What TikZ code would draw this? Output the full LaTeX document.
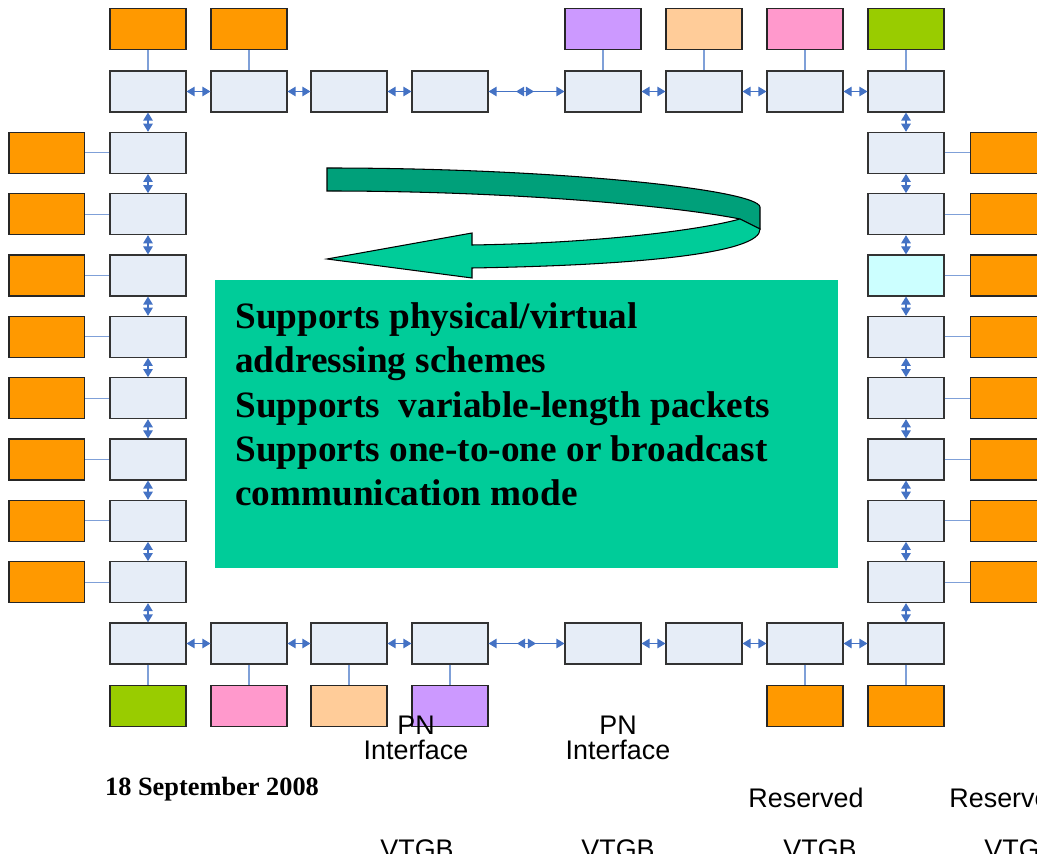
\documentclass[tikz,border=0pt]{standalone}
\usepackage{fontspec}
\setmainfont{Liberation Serif}
\setsansfont{Liberation Sans}
\usetikzlibrary{arrows.meta,positioning}

\definecolor{chipfill}{RGB}{230,237,247}
\definecolor{linkblue}{RGB}{68,114,196}
\definecolor{tapblue}{RGB}{127,160,216}
\definecolor{portorange}{RGB}{255,153,0}
\definecolor{portpurple}{RGB}{204,153,255}
\definecolor{portpeach}{RGB}{255,204,153}
\definecolor{portpink}{RGB}{255,153,204}
\definecolor{portlime}{RGB}{153,204,0}
\definecolor{portcyan}{RGB}{204,255,255}
\definecolor{bannergreen}{RGB}{0,204,153}
\definecolor{ribbondark}{RGB}{0,160,122}

\begin{document}
\begin{tikzpicture}[x=0.02cm, y=-0.02cm]
	\tikzstyle{chip} = [rectangle, draw=black!80, fill=chipfill, line width=0.6pt, minimum width=1.52cm, minimum height=0.82cm, inner sep=0pt]
	\tikzstyle{port} = [chip, draw=black!85, fill=portorange]
	\tikzstyle{link} = [{Triangle[length=4.6pt,width=5.4pt]}-{Triangle[length=4.6pt,width=5.4pt]}, draw=linkblue, fill=linkblue, line width=0.7pt]
	\tikzstyle{tap} = [draw=tapblue, line width=0.7pt]
	\tikzstyle{note} = [font=\sffamily\fontsize{15.3}{14.2}\selectfont, inner sep=0pt, align=center]

	\useasboundingbox (0,0) rectangle (1037,854);
	\clip (0,0) rectangle (1037,854);

	% top and bottom rows
	\foreach \name / \x in {1/148, 2/249, 3/349, 4/450, 5/603, 6/704, 7/805, 8/906} {
		\node[chip] (top-\name) at (\x, 91.5) {};
		\node[chip] (bottom-\name) at (\x, 643.5) {};
	}

	% side columns
	\foreach \name / \col in {1/chipfill, 2/chipfill, 3/portcyan, 4/chipfill, 5/chipfill, 6/chipfill, 7/chipfill, 8/chipfill} {
		\node[chip] (left-\name) at (148, {91.5+61.33*\name}) {};
		\node[chip, fill=\col] (right-\name) at (906, {91.5+61.33*\name}) {};
		\node[port, left=0.48cm of left-\name] (left-port-\name) {};
		\node[port, right=0.5cm of right-\name] (right-port-\name) {};
		\draw[tap] (left-port-\name) -- (left-\name);
		\draw[tap] (right-\name) -- (right-port-\name);
	}

	% ports above and below the rows
	\foreach \name / \col in {1/portorange, 2/portorange, 5/portpurple, 6/portpeach, 7/portpink, 8/portlime} {
		\node[port, fill=\col, above=0.4cm of top-\name] (top-port-\name) {};
		\draw[tap] (top-port-\name) -- (top-\name);
	}
	\foreach \name / \col in {1/portlime, 2/portpink, 3/portpeach, 4/portpurple, 7/portorange, 8/portorange} {
		\node[port, fill=\col, below=0.4cm of bottom-\name] (bottom-port-\name) {};
		\draw[tap] (bottom-\name) -- (bottom-port-\name);
	}

	% ring links
	\foreach \a / \b in {1/2, 2/3, 3/4, 5/6, 6/7, 7/8} {
		\draw[link] (top-\a) -- (top-\b);
		\draw[link] (bottom-\a) -- (bottom-\b);
	}
	\foreach \a / \b in {1/2, 2/3, 3/4, 4/5, 5/6, 6/7, 7/8} {
		\draw[link] (left-\a) -- (left-\b);
		\draw[link] (right-\a) -- (right-\b);
	}
	\draw[link] (top-1) -- (left-1);
	\draw[link] (left-8) -- (bottom-1);
	\draw[link] (top-8) -- (right-1);
	\draw[link] (right-8) -- (bottom-8);

	% long hops between the halves
	\coordinate (top-gap-a) at (534, 91.5);
	\coordinate (top-gap-b) at (516, 91.5);
	\coordinate (bottom-gap-a) at (536, 643.5);
	\coordinate (bottom-gap-b) at (517, 643.5);
	\draw[link] (top-4) -- (top-gap-a);
	\draw[link] (top-gap-b) -- (top-5);
	\draw[link] (bottom-4) -- (bottom-gap-a);
	\draw[link] (bottom-gap-b) -- (bottom-5);

	% feature box
	\node[fill=bannergreen, minimum width=12.46cm, minimum height=5.76cm, inner sep=0pt] (banner) at (526.5, 424) {};
	\node[anchor=north west, inner sep=0pt, align=left, font=\bfseries\fontsize{21.2}{25.3}\selectfont] (features) at (235, 302)
		{Supports physical/virtual\\addressing schemes\\Supports~ variable-length packets\\Supports one-to-one or broadcast\\communication mode};

	% turning ribbon arrow
	\filldraw[fill=ribbondark, draw=black, line width=0.6pt]
		(327,168) .. controls (560,168) and (758,190) .. (760,207) -- (760,229) -- (740,219)
		.. controls (680,207) and (520,191) .. (327,191) -- cycle;
	\filldraw[fill=bannergreen, draw=black, line width=0.6pt]
		(740,219) -- (760,229) .. controls (761,252) and (650,265) .. (472,268) -- (472,278) -- (327,259)
		-- (472,233) -- (472,245) .. controls (600,243) and (700,230) .. (740,219);

	% interface labels
	\node[note, anchor=north] (pn-a) at (416, 716) {PN\\Interface};
	\node[note, anchor=north] (pn-b) at (618, 716) {PN\\Interface};
	\node[note, anchor=base] (reserved-a) at (806, 807) {Reserved};
	\node[note, anchor=base] (reserved-b) at (1007, 807) {Reserved};
	\foreach \name / \x in {1/417, 2/618, 3/820, 4/1021}
		\node[note, anchor=base] (vtgb-\name) at (\x, 858) {VTGB};

	\node[anchor=base, inner sep=0pt, font=\bfseries\fontsize{15}{18}\selectfont] (date) at (212, 795) {18 September 2008};
\end{tikzpicture}
\end{document}
